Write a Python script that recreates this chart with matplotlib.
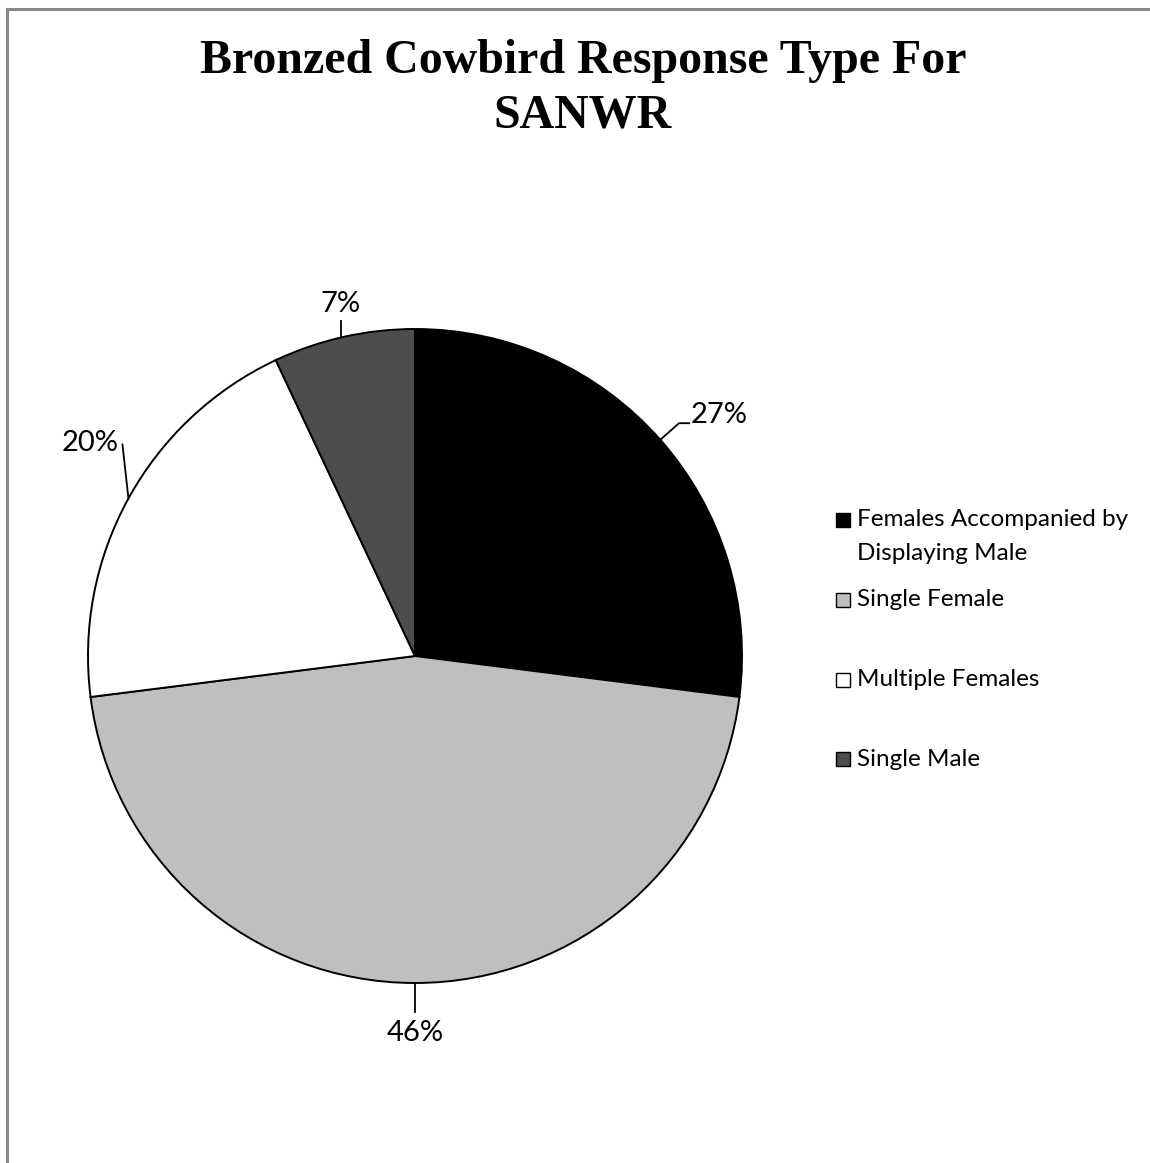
import numpy as np
import matplotlib.pyplot as plt
from matplotlib.patches import Rectangle

# response counts as shares of all observed responses (%)
categories = ['Females Accompanied by\nDisplaying Male', 'Single Female',
              'Multiple Females', 'Single Male']
shares = [27, 46, 20, 7]
colors = ['#000000', '#bfbfbf', '#ffffff', '#4d4d4d']

W, H = 1150, 1163
fig = plt.figure(figsize=(W / 100, H / 100), dpi=100)
# axes in pixel units, y measured up from the bottom
ax = fig.add_axes([0, 0, 1, 1])

cx, cy, R = 415, H - 656, 327
wedges, _ = ax.pie(shares, colors=colors, startangle=90, counterclock=False,
                   center=(cx, cy), radius=R,
                   wedgeprops=dict(edgecolor='black', linewidth=1.4))
ax.set_xlim(0, W)
ax.set_ylim(0, H)
ax.set_aspect('equal')
ax.axis('off')

lab_font = dict(family=['Lato', 'DejaVu Sans'], fontsize=21, color='black')

# leader lines and percent labels, anchored on each wedge's outer edge
for w, s in zip(wedges, shares):
    th = np.deg2rad((w.theta1 + w.theta2) / 2)
    ex, ey = cx + R * np.cos(th), cy + R * np.sin(th)
    txt = f'{s}%'
    if np.cos(th) > 0.5:
        # right side: radial stub then short horizontal run
        kx, ky = cx + (R + 25) * np.cos(th), cy + (R + 25) * np.sin(th)
        ax.plot([ex, kx, kx + 10], [ey, ky, ky], color='black', lw=1.3)
        ax.text(kx + 12, ky, txt, ha='left', va='baseline', **lab_font)
    elif np.cos(th) < -0.5:
        tx, ty = ex - 6, ey + 54
        ax.plot([ex, tx], [ey, ty], color='black', lw=1.3)
        ax.text(tx - 4, ty + 1, txt, ha='right', va='center', **lab_font)
    elif np.sin(th) > 0:
        ax.plot([ex - 3, ex - 3], [ey, ey + 16], color='black', lw=1.3)
        ax.text(ex - 3, ey + 25, txt, ha='center', va='baseline', **lab_font)
    else:
        ax.plot([ex, ex], [ey, ey - 29], color='black', lw=1.3)
        ax.text(ex, ey - 50, txt, ha='center', va='center', **lab_font)

# title, one text per line
title_font = dict(ha='center', va='baseline', family=['Liberation Serif'],
                  fontweight='bold', fontsize=34.5)
fig.text(583 / W, 1 - 73 / H, 'Bronzed Cowbird Response Type For', **title_font)
fig.text(583 / W, 1 - 127 / H, 'SANWR', **title_font)

# legend drawn by hand so the two-line entry keeps its spacing
leg_y = [520, 600, 680, 759]
for lab, col, y in zip(categories, colors, leg_y):
    ax.add_patch(Rectangle((836, H - y - 7), 14, 14, facecolor=col,
                           edgecolor='black', lw=1.0))
    lines = lab.split('\n')
    for k, line in enumerate(lines):
        ax.text(857, H - y - k * 33, line, ha='left', va='center',
                family=['Lato', 'DejaVu Sans'], fontsize=17.5)

# gray chart-area border
fig.patches.append(Rectangle((7 / W, -0.1), 1.2, 1 - 9 / H + 0.1,
                             transform=fig.transFigure, fill=False,
                             edgecolor='#888888', lw=2.2))

fig.savefig('out.png', dpi=100, facecolor='white')
